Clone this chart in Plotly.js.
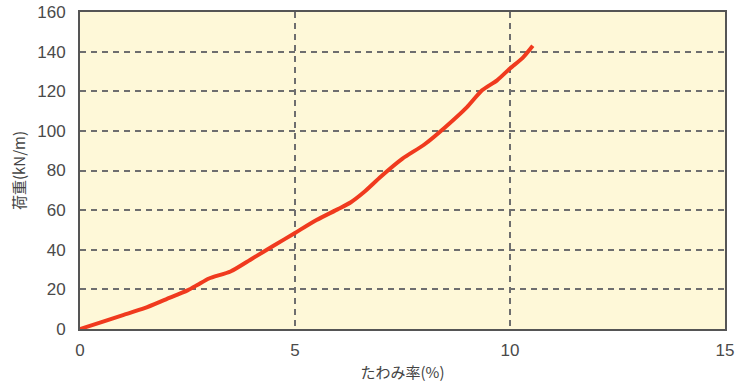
<!DOCTYPE html>
<html>
<head>
<meta charset="utf-8">
<script src="https://cdn.plot.ly/plotly-3.0.1.min.js"></script>
<style>html,body{margin:0;padding:0;background:#fff;}#chart{width:737px;height:387px;}</style>
</head>
<body>
<div id="chart"></div>
<script>
const deflection = [0, 0.5, 1, 1.5, 2, 2.5, 2.75, 3, 3.5, 4, 4.5, 5, 5.5, 6, 6.3, 6.6, 7, 7.5, 8, 8.5, 9, 9.35, 9.7, 10, 10.3, 10.53];
const load = [0, 3.5, 7, 10.5, 15, 19.5, 22.5, 25.5, 29, 35.5, 42, 48.5, 55, 60.5, 64, 69, 77, 86, 93, 102, 112, 120.5, 125.5, 131.5, 137, 143];
const xTicks = [0, 5, 10, 15];
const yTicks = [0, 20, 40, 60, 80, 100, 120, 140, 160];
const xTitle = 'たわみ率(%)';
const yTitle = '荷重(kN/m)';

const font = '"Liberation Sans", "Noto Sans CJK JP", sans-serif';
const tfont = '"Noto Sans CJK JP", sans-serif';
Plotly.newPlot('chart', [{
  x: deflection, y: load, type: 'scatter', mode: 'lines',
  line: {color: '#F03A1E', width: 4, shape: 'spline', smoothing: 0.6},
  hoverinfo: 'skip'
}], {
  width: 737, height: 387,
  margin: {l: 80, r: 12, t: 12, b: 58},
  paper_bgcolor: '#ffffff',
  plot_bgcolor: '#FEF8D8',
  showlegend: false,
  font: {family: font, color: '#444'},
  xaxis: {
    range: [0, 15], tickvals: xTicks, ticktext: xTicks.map(String),
    showgrid: true, gridcolor: '#6e6e6e', griddash: '6px,5px', gridwidth: 2,
    zeroline: false, showline: true, linecolor: '#555', linewidth: 2, mirror: true,
    ticks: '', ticklen: 0, ticklabelstandoff: 5,
    tickfont: {size: 17, color: '#4a4a4a', family: font},
    title: {text: xTitle, font: {size: 15, color: '#444', family: tfont}, standoff: 8}
  },
  yaxis: {
    range: [0, 160], tickvals: yTicks, ticktext: yTicks.map(String),
    showgrid: true, gridcolor: '#6e6e6e', griddash: '6px,5px', gridwidth: 2,
    zeroline: false, showline: true, linecolor: '#555', linewidth: 2, mirror: true,
    ticks: '', ticklen: 0, ticklabelstandoff: 9,
    tickfont: {size: 17, color: '#4a4a4a', family: font},
    title: {text: yTitle, font: {size: 15, color: '#444', family: tfont}, standoff: 8}
  }
}, {staticPlot: true, displayModeBar: false});
</script>
</body>
</html>
